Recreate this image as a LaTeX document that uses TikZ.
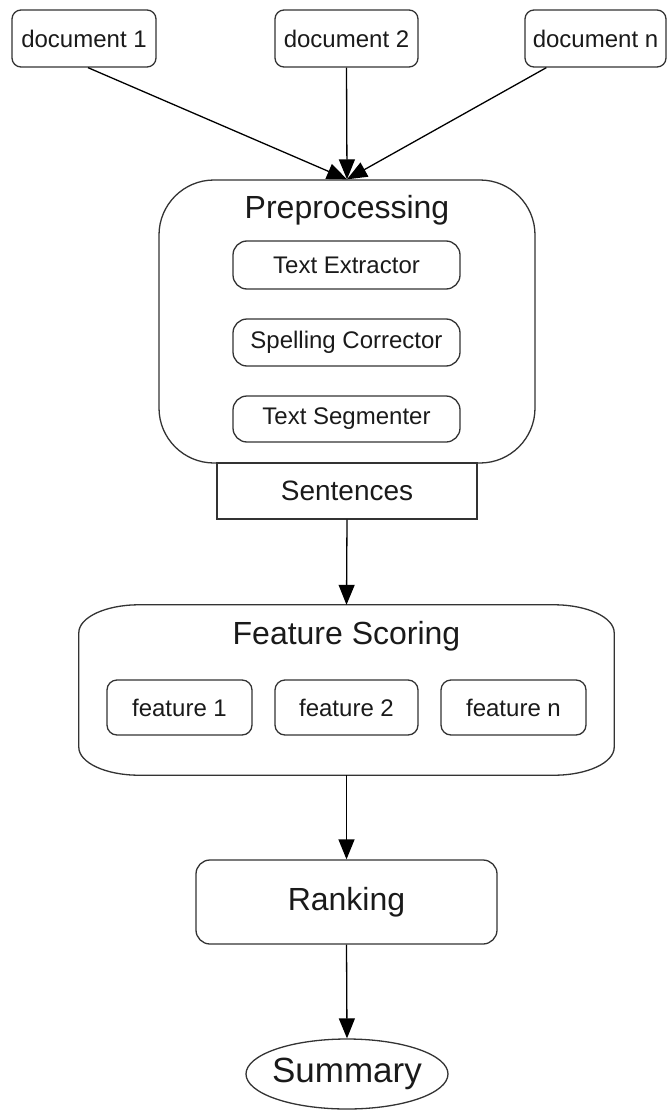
\documentclass[tikz,border=0pt]{standalone}
\usepackage{fontspec}
\setmainfont{Liberation Sans}
\usetikzlibrary{arrows.meta,shapes.geometric,calc}
\definecolor{ln}{HTML}{333333}
\definecolor{tx}{HTML}{1A1A1A}
\begin{document}
\begin{tikzpicture}[x=1pt,y=1pt,
  box/.style={draw=ln, line width=1.3pt, rounded corners=9pt, inner sep=0pt, text=tx, font=\fontsize{24}{28}\selectfont},
  subbox/.style={box, rounded corners=14pt},
  bigtxt/.style={text=tx, inner sep=0pt, font=\fontsize{32}{36}\selectfont},
  arr/.style={draw=black, line width=1.3pt, -{Triangle[length=20pt,width=16pt]}},
]
\useasboundingbox (0,0) rectangle (667,-1113);
% documents
\node[box, minimum width=144pt, minimum height=57pt] (d1) at (84,-38.5) {document 1};
\node[box, minimum width=143pt, minimum height=57pt] (d2) at (346.5,-38.5) {document 2};
\node[box, minimum width=141pt, minimum height=57pt] (dn) at (595.5,-38.5) {document n};
% preprocessing
\node[box, rounded corners=55pt, minimum width=376pt, minimum height=283pt] (pre) at (347,-321.5) {};
\node[bigtxt] (pret) at (347,-210) {Preprocessing};
\node[subbox, minimum width=227pt, minimum height=48pt] (te) at (346.5,-265) {Text Extractor};
\node[subbox, minimum width=227pt, minimum height=47pt] (sc) at (346.5,-342.5) {Spelling Corrector};
\node[subbox, minimum width=227pt, minimum height=46pt] (ts) at (346.5,-419) {Text Segmenter};
\node[box, rounded corners=0pt, minimum width=260pt, minimum height=56pt, font=\fontsize{28}{32}\selectfont] (sent) at (347,-491) {Sentences};
% feature scoring
\node[inner sep=0pt, minimum width=535pt, minimum height=170pt] (fs) at (346.5,-690) {};
\draw[ln, line width=1.3pt]
  ($(fs.north west)+(60,0)$) -- ($(fs.north east)+(-60,0)$)
  arc[start angle=90, end angle=0, x radius=60pt, y radius=28pt]
  -- ($(fs.south east)+(0,28)$)
  arc[start angle=0, end angle=-90, x radius=60pt, y radius=28pt]
  -- ($(fs.south west)+(60,0)$)
  arc[start angle=270, end angle=180, x radius=60pt, y radius=28pt]
  -- ($(fs.north west)+(0,-28)$)
  arc[start angle=180, end angle=90, x radius=60pt, y radius=28pt]
  -- cycle;
\node[bigtxt] (fst) at (346.5,-636) {Feature Scoring};
\node[box, rounded corners=10pt, minimum width=145pt, minimum height=55pt] (f1) at (179.5,-707.5) {feature 1};
\node[box, rounded corners=10pt, minimum width=143pt, minimum height=55pt] (f2) at (346.5,-707.5) {feature 2};
\node[box, rounded corners=10pt, minimum width=145pt, minimum height=55pt] (fn) at (513.5,-707.5) {feature n};
% ranking and summary
\node[box, rounded corners=14pt, minimum width=301pt, minimum height=84pt, font=\fontsize{32}{36}\selectfont] (rank) at (346.5,-902) {Ranking};
\node[box, ellipse, inner xsep=-4pt, minimum width=202pt, minimum height=70pt, font=\fontsize{35}{40}\selectfont] (sum) at (347,-1074) {Summary};
% connectors
\draw[arr] ($(d1.south)+(4,0)$) -- (pre.north);
\draw[arr] (d2.south) -- (pre.north);
\draw[arr] ($(dn.south west)+(22,0)$) -- (pre.north);
\draw[arr] (sent.south) -- (fs.north);
\draw[arr] (fs.south) -- (rank.north);
\draw[arr] (rank.south) -- (sum.north);
\end{tikzpicture}
\end{document}
